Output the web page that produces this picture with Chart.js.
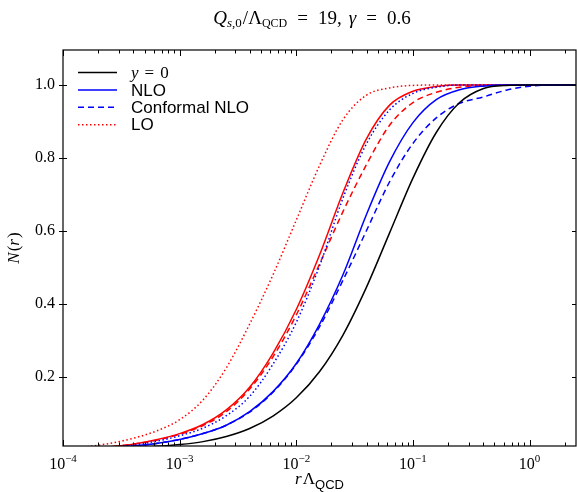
<!DOCTYPE html>
<html lang="en">
<head>
<meta charset="UTF-8" />
<title>N(r) at Qs0/Lambda = 19</title>
<script src="https://cdn.jsdelivr.net/npm/chart.js"></script>
<style>
  html, body { margin: 0; padding: 0; background: #fff; }
</style>
</head>
<body>
<canvas id="chart" width="577" height="492"></canvas>
<script>
// log10(r * Lambda_QCD) sample points shared by every curve
const logR = [-4.0, -3.8, -3.6, -3.4, -3.2, -3.0, -2.8, -2.6, -2.4, -2.2, -2.0,
              -1.8, -1.6, -1.4, -1.2, -1.0, -0.8, -0.6, -0.4, -0.2, 0.0, 0.2, 0.4];

// N(r) values
const initialY0   = [0.001, 0.003, 0.005, 0.007, 0.010, 0.015, 0.023, 0.037, 0.059, 0.093, 0.143,
                     0.215, 0.315, 0.445, 0.595, 0.745, 0.870, 0.952, 0.990, 0.999, 1.000, 1.000, 1.000];
const blueNLO     = [0.002, 0.004, 0.007, 0.011, 0.018, 0.029, 0.045, 0.068, 0.105, 0.160, 0.237,
                     0.345, 0.480, 0.644, 0.790, 0.897, 0.960, 0.987, 0.997, 1.000, 1.000, 1.000, 1.000];
const blueConfNLO = [0.002, 0.004, 0.007, 0.011, 0.018, 0.029, 0.045, 0.068, 0.104, 0.158, 0.235,
                     0.338, 0.465, 0.600, 0.735, 0.840, 0.910, 0.950, 0.967, 0.986, 0.997, 1.000, 1.000];
const blueLO      = [0.002, 0.004, 0.008, 0.014, 0.024, 0.039, 0.060, 0.094, 0.147, 0.235, 0.350,
                     0.505, 0.690, 0.838, 0.932, 0.977, 0.994, 1.000, 1.000, 1.000, 1.000, 1.000, 1.000];
const redNLO      = [0.002, 0.005, 0.009, 0.016, 0.028, 0.045, 0.070, 0.110, 0.172, 0.265, 0.385,
                     0.535, 0.705, 0.852, 0.945, 0.983, 0.996, 1.000, 1.000, 1.000, 1.000, 1.000, 1.000];
const redConfNLO  = [0.002, 0.005, 0.009, 0.016, 0.027, 0.043, 0.067, 0.105, 0.167, 0.255, 0.370,
                     0.510, 0.653, 0.781, 0.890, 0.952, 0.980, 0.994, 0.999, 1.000, 1.000, 1.000, 1.000];
const redLO       = [0.004, 0.009, 0.018, 0.032, 0.052, 0.083, 0.137, 0.225, 0.345, 0.480, 0.630,
                     0.780, 0.905, 0.972, 0.992, 0.999, 1.000, 1.000, 1.000, 1.000, 1.000, 1.000, 1.000];

// axis ticks
const xDecades = [1e-4, 1e-3, 1e-2, 1e-1, 1];
const xExponents = ["\u22124", "\u22123", "\u22122", "\u22121", "0"];
const yTicks = [0.2, 0.4, 0.6, 0.8, 1.0];

const SERIF = '"Liberation Serif", "Times New Roman", serif';
const SANS = '"Liberation Sans", Arial, sans-serif';
const DASH = [6, 4];
const DOT = [1.5, 2.5];

function pts(vals) {
  return logR.map((l, i) => ({ x: Math.pow(10, l), y: vals[i] }));
}

function line(vals, color, dash) {
  return {
    data: pts(vals),
    borderColor: color,
    borderWidth: 1.5,
    borderDash: dash,
    pointRadius: 0,
    cubicInterpolationMode: "monotone",
    fill: false,
  };
}

const datasets = [
  line(initialY0, "#000000", []),
  line(blueNLO, "#0000ff", []),
  line(blueConfNLO, "#0000ff", DASH),
  line(blueLO, "#0000ff", DOT),
  line(redNLO, "#ff0000", []),
  line(redConfNLO, "#ff0000", DASH),
  line(redLO, "#ff0000", DOT),
];

// all log ticks (1..9 x decade) up to the axis max
const xTickList = [];
xDecades.forEach((d) => {
  for (let m = 1; m <= 9; m++) {
    if (m * d <= 2.5) xTickList.push({ value: m * d, major: m === 1 });
  }
});

// draw a run of text pieces with different fonts / baseline shifts
function drawRich(ctx, parts, x, y, align) {
  let w = 0;
  parts.forEach((p) => {
    ctx.font = p.font;
    w += ctx.measureText(p.t).width + (p.gap || 0);
  });
  let cx = align === "center" ? x - w / 2 : x;
  ctx.textAlign = "left";
  parts.forEach((p) => {
    ctx.font = p.font;
    ctx.fillText(p.t, cx, y + (p.dy || 0));
    cx += ctx.measureText(p.t).width + (p.gap || 0);
  });
}

const decorations = {
  id: "decorations",
  afterDraw(chart) {
    const ctx = chart.ctx;
    const a = chart.chartArea;
    const xs = chart.scales.x;
    const ys = chart.scales.y;
    ctx.save();

    // frame
    ctx.strokeStyle = "#000";
    ctx.lineWidth = 1.2;
    ctx.setLineDash([]);
    ctx.strokeRect(a.left, a.top, a.right - a.left, a.bottom - a.top);

    // x ticks, inward on bottom and top
    ctx.lineWidth = 1;
    xs.ticks.forEach((t) => {
      const px = Math.round(xs.getPixelForValue(t.value)) + 0.5;
      const len = t.major ? 6 : 3.5;
      ctx.beginPath();
      ctx.moveTo(px, a.bottom);
      ctx.lineTo(px, a.bottom - len);
      ctx.moveTo(px, a.top);
      ctx.lineTo(px, a.top + len);
      ctx.stroke();
    });

    // y ticks
    ys.ticks.forEach((t) => {
      const py = Math.round(ys.getPixelForValue(t.value)) + 0.5;
      ctx.beginPath();
      ctx.moveTo(a.left - 4, py);
      ctx.lineTo(a.left + 4, py);
      ctx.moveTo(a.right, py);
      ctx.lineTo(a.right - 4, py);
      ctx.stroke();
    });

    ctx.fillStyle = "#000";
    ctx.textBaseline = "alphabetic";

    // x tick labels 10^n
    xDecades.forEach((d, i) => {
      const px = xs.getPixelForValue(d);
      drawRich(ctx, [
        { t: "10", font: "16px " + SERIF },
        { t: xExponents[i], font: "11px " + SERIF, dy: -7 },
      ], px, 469, "center");
    });

    // x axis title
    drawRich(ctx, [
      { t: "r", font: "italic 17px " + SERIF, gap: 1 },
      { t: "\u039B", font: "17px " + SERIF },
      { t: "QCD", font: "13px " + SANS, dy: 5 },
    ], (a.left + a.right) / 2, 484, "center");

    // y axis title
    ctx.save();
    ctx.translate(19, (a.top + a.bottom) / 2);
    ctx.rotate(-Math.PI / 2);
    drawRich(ctx, [
      { t: "N", font: "italic 17px " + SERIF, gap: 1 },
      { t: "(", font: "17px " + SERIF },
      { t: "r", font: "italic 17px " + SERIF, gap: 1 },
      { t: ")", font: "17px " + SERIF },
    ], 0, 0, "center");
    ctx.restore();

    // title
    drawRich(ctx, [
      { t: "Q", font: "italic 19px " + SERIF },
      { t: "s", font: "italic 13px " + SERIF, dy: 3 },
      { t: ",0", font: "13px " + SERIF, dy: 3, gap: 1 },
      { t: "/\u039B", font: "19px " + SERIF },
      { t: "QCD", font: "12px " + SERIF, dy: 3, gap: 10 },
      { t: "=", font: "19px " + SERIF, gap: 10 },
      { t: "19,", font: "19px " + SERIF, gap: 7 },
      { t: "\u03B3", font: "italic 19px " + SERIF, gap: 10 },
      { t: "=", font: "19px " + SERIF, gap: 10 },
      { t: "0.6", font: "19px " + SERIF },
    ], 312, 24, "center");

    // legend
    const legend = [
      { ds: 0, parts: [{ t: "y", font: "italic 17px " + SERIF, gap: 6 }, { t: "=", font: "17px " + SERIF, gap: 6 }, { t: "0", font: "17px " + SERIF }] },
      { ds: 1, parts: [{ t: "NLO", font: "17px " + SANS }] },
      { ds: 2, parts: [{ t: "Conformal NLO", font: "17px " + SANS }] },
      { ds: 6, parts: [{ t: "LO", font: "17px " + SANS }] },
    ];
    legend.forEach((item, i) => {
      const ds = chart.data.datasets[item.ds];
      const ly = 72.5 + i * 17.4;
      ctx.strokeStyle = ds.borderColor;
      ctx.lineWidth = 1.5;
      ctx.setLineDash(ds.borderDash);
      ctx.beginPath();
      ctx.moveTo(78, ly);
      ctx.lineTo(117, ly);
      ctx.stroke();
      ctx.setLineDash([]);
      ctx.textBaseline = "middle";
      drawRich(ctx, item.parts, 131, ly + 1, "left");
    });
    ctx.restore();
  },
};

new Chart(document.getElementById("chart"), {
  type: "line",
  data: { datasets: datasets },
  plugins: [decorations],
  options: {
    responsive: false,
    animation: false,
    devicePixelRatio: 1,
    layout: { padding: { top: 50, right: 1, left: 0, bottom: 0 } },
    plugins: {
      legend: { display: false },
      title: { display: false },
      tooltip: { enabled: false },
    },
    scales: {
      x: {
        type: "logarithmic",
        min: 1e-4,
        max: 2.5,
        grid: { display: false, drawTicks: false },
        border: { display: false },
        ticks: { display: false },
        afterBuildTicks: (s) => { s.ticks = xTickList.map((t) => ({ ...t })); },
        afterFit: (s) => { s.height = 46; },
      },
      y: {
        type: "linear",
        min: 0.011,
        max: 1.096,
        grid: { display: false, drawTicks: false },
        border: { display: false },
        ticks: {
          color: "#000",
          padding: 8,
          font: { family: SERIF, size: 16 },
          callback: (v) => Number(v).toFixed(1),
        },
        afterBuildTicks: (s) => { s.ticks = yTicks.map((v) => ({ value: v })); },
        afterFit: (s) => { s.width = 63; },
      },
    },
  },
});
</script>
</body>
</html>
